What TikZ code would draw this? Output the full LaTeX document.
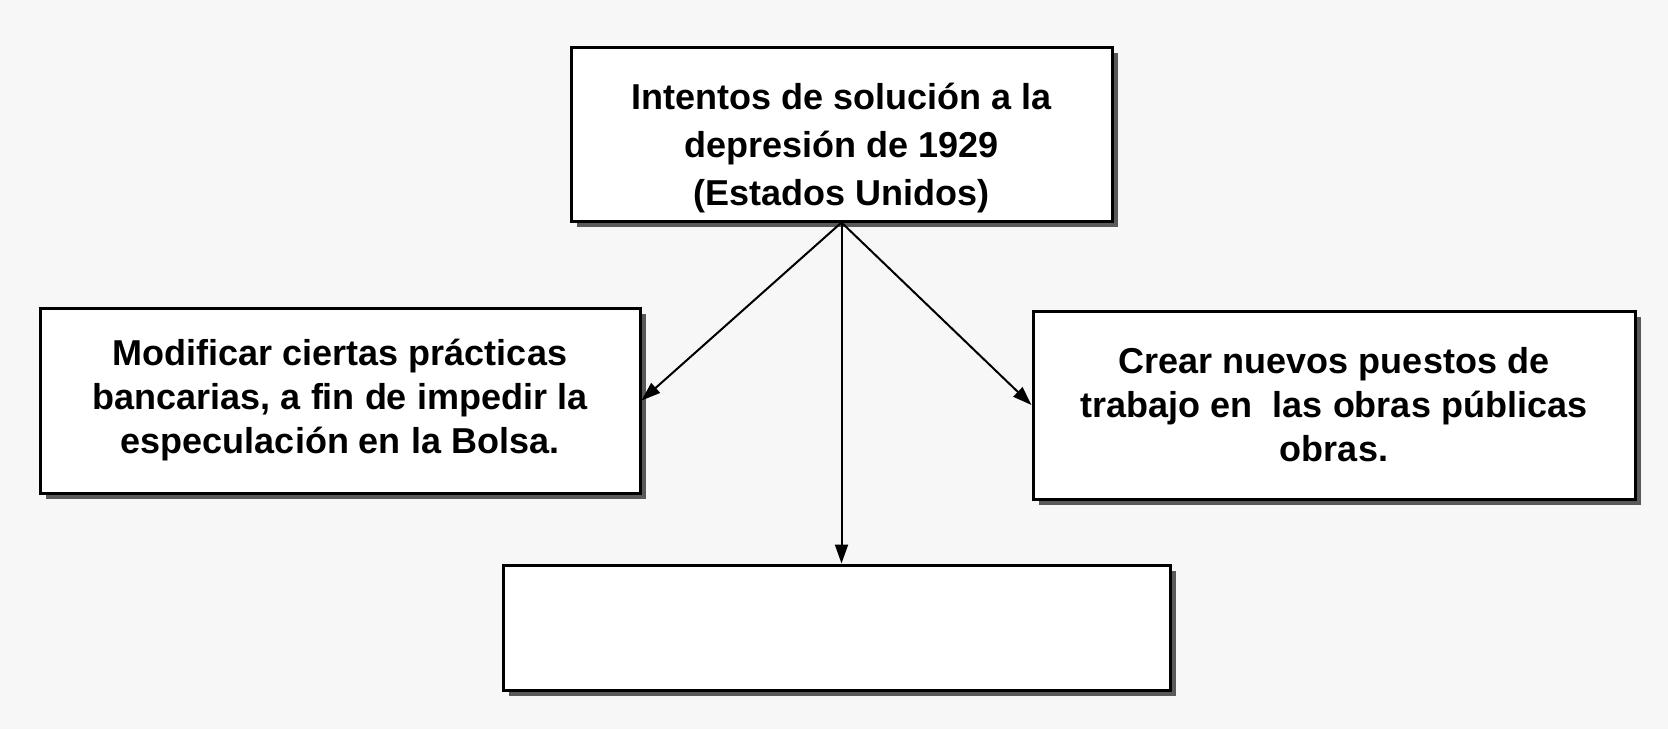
\documentclass[tikz,border=0pt]{standalone}
\usepackage{fontspec}
\setmainfont{Liberation Sans}
\usetikzlibrary{shadows,arrows.meta}
\begin{document}
\begin{tikzpicture}[x=1pt,y=-1pt,
  boxtext/.style={align=center, inner sep=0pt, font=\fontsize{36}{44}\selectfont\bfseries},
  box/.style={draw=black, line width=3pt, fill=white, rectangle, inner sep=0pt, boxtext,
    drop shadow={shadow xshift=6pt, shadow yshift=-6pt, fill=black!65, opacity=1}},
  arr/.style={draw=black, line width=2pt, -{Triangle[length=19pt,width=13pt]}}]
\fill[black!3] (0,0) rectangle (1668,729);
\useasboundingbox (0,0) rectangle (1668,729);
\node[box, minimum width=541pt, minimum height=174pt] (top) at (841.5,134) {};
\node[boxtext, font=\fontsize{36}{48}\selectfont\bfseries] (toptext) at ([yshift=-14pt]top.center)
  {Intentos de solución a la\\depresión de 1929\\(Estados Unidos)};
\node[box, minimum width=600pt, minimum height=185pt] (left) at (340,400.5)
  {Modificar ciertas prácticas\\bancarias, a fin de impedir la\\especulación en la Bolsa.};
\node[box, minimum width=602pt, minimum height=188pt] (right) at (1334,405)
  {Crear nuevos puestos de\\trabajo en\ \ las obras públicas\\obras.};
\node[box, minimum width=667pt, minimum height=125pt] (bottom) at (836.5,627.5) {};
\draw[arr] (top.south) -- (left.east);
\draw[arr] (top.south) -- (right.west);
\draw[arr] (top.south) -- (top.south |- bottom.north);
\end{tikzpicture}
\end{document}
